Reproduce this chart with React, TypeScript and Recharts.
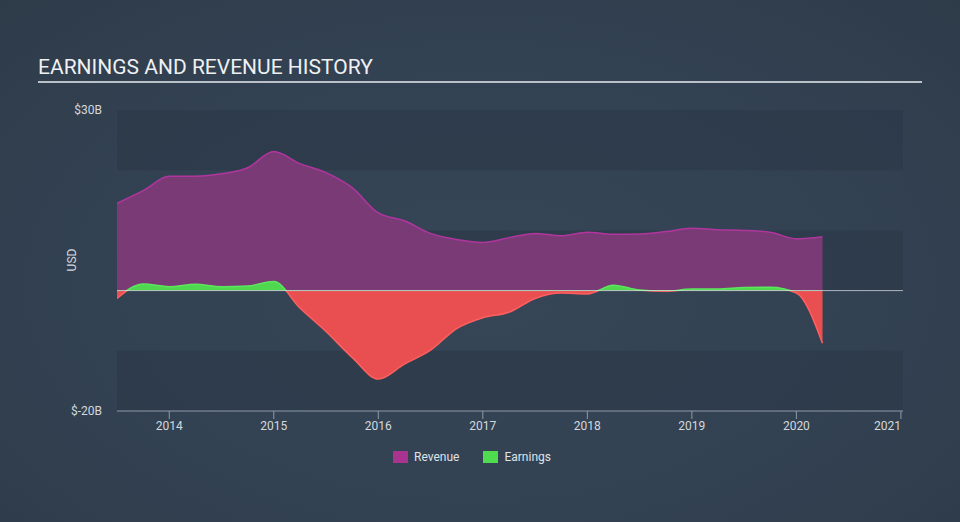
import React from 'react';
import {
  ComposedChart,
  Area,
  XAxis,
  YAxis,
  ReferenceArea,
  ReferenceLine,
} from 'recharts';

// quarter end dates (decimal years)
const quarters = [
  2013.5, 2013.75, 2014.0, 2014.25, 2014.5, 2014.75, 2015.0, 2015.25, 2015.5, 2015.75,
  2016.0, 2016.25, 2016.5, 2016.75, 2017.0, 2017.25, 2017.5, 2017.75, 2018.0, 2018.25,
  2018.5, 2018.75, 2019.0, 2019.25, 2019.5, 2019.75, 2020.0, 2020.25,
];

// USD billions
const revenue = [
  14.5, 16.6, 19.0, 19.0, 19.4, 20.4, 23.1, 21.1, 19.6, 17.1,
  12.9, 11.6, 9.5, 8.5, 8.0, 8.8, 9.5, 9.1, 9.7, 9.35,
  9.4, 9.8, 10.35, 10.1, 10.0, 9.7, 8.6, 8.95,
];

const earnings = [
  -1.3, 1.1, 0.65, 1.05, 0.65, 0.75, 1.5, -2.9, -6.8, -11.1,
  -14.7, -12.2, -9.9, -6.3, -4.5, -3.6, -1.3, -0.4, -0.55, 0.9,
  0.1, -0.1, 0.25, 0.27, 0.5, 0.55, -0.4, -8.75,
];

const yearTicks = [2014, 2015, 2016, 2017, 2018, 2019, 2020, 2021];
const valueTicks = [-20, 30];
const darkBands = [
  [20, 30],
  [0, 10],
  [-20, -10],
];

const data = quarters.map((t, i) => ({ t, revenue: revenue[i], earnings: earnings[i] }));

const eMax = Math.max(...earnings);
const eMin = Math.min(...earnings);
const splitOffset = eMax / (eMax - eMin);

const font = 'Roboto, "Noto Sans", sans-serif';

const YearTick = (props: any) => {
  const { x, y, payload } = props;
  const last = payload.value === yearTicks[yearTicks.length - 1];
  return (
    <text
      x={x}
      y={y}
      dy="0.71em"
      textAnchor={last ? 'end' : 'middle'}
      fill="#d4d8dc"
      fontSize={12}
      fontFamily={font}
    >
      {payload.value}
    </text>
  );
};

export default function App() {
  return (
    <div
      style={{
        position: 'absolute',
        left: 0,
        top: 0,
        width: 960,
        height: 522,
        overflow: 'hidden',
        background: 'radial-gradient(ellipse at 50% 55%, #364657 0%, #334253 55%, #2e3b49 100%)',
        fontFamily: font,
      }}
    >
      <div
        style={{
          position: 'absolute',
          left: 38,
          top: 55,
          fontSize: 21,
          color: '#eef0f2',
          whiteSpace: 'nowrap',
        }}
      >
        EARNINGS AND REVENUE HISTORY
      </div>
      <div
        style={{
          position: 'absolute',
          left: 38,
          top: 81,
          width: 884,
          height: 2,
          background: '#b9c0c8',
        }}
      />
      <div
        style={{
          position: 'absolute',
          left: 72,
          top: 260,
          transform: 'translate(-50%, -50%) rotate(-90deg)',
          fontSize: 12,
          color: '#d4d8dc',
        }}
      >
        USD
      </div>

      <ComposedChart
        width={960}
        height={522}
        data={data}
        margin={{ top: 110, right: 57, bottom: 81, left: 57 }}
        style={{ position: 'absolute', left: 0, top: 0 }}
      >
        <defs>
          <linearGradient id="earnFill" x1="0" y1="0" x2="0" y2="1">
            <stop offset={0} stopColor="#4fd84f" />
            <stop offset={splitOffset} stopColor="#4fd84f" />
            <stop offset={splitOffset} stopColor="#e94f50" />
            <stop offset={1} stopColor="#e94f50" />
          </linearGradient>
          <linearGradient id="earnStroke" x1="0" y1="0" x2="0" y2="1">
            <stop offset={0} stopColor="#5ce65c" />
            <stop offset={splitOffset} stopColor="#5ce65c" />
            <stop offset={splitOffset} stopColor="#ff5e5e" />
            <stop offset={1} stopColor="#ff5e5e" />
          </linearGradient>
        </defs>

        {darkBands.map(([lo, hi]) => (
          <ReferenceArea
            key={lo}
            y1={lo}
            y2={hi}
            x1={2013.5}
            x2={2021.02}
            fill="#2c3a49"
            fillOpacity={0.75}
            stroke="none"
            ifOverflow="visible"
          />
        ))}

        <XAxis
          type="number"
          dataKey="t"
          domain={[2013.5, 2021.02]}
          ticks={yearTicks}
          allowDataOverflow
          stroke="#8e9aa7"
          tickSize={8}
          tickMargin={2}
          tick={<YearTick />}
        />
        <YAxis
          type="number"
          domain={[-20, 30]}
          ticks={valueTicks}
          width={60}
          axisLine={false}
          tickLine={false}
          tickSize={0}
          tickMargin={15}
          tick={{ fill: '#d4d8dc', fontSize: 12, fontFamily: font }}
          tickFormatter={(v: number) => `$${v}B`}
        />

        <Area
          type="monotone"
          dataKey="revenue"
          fill="#7a3a76"
          fillOpacity={1}
          stroke="#b0369e"
          strokeWidth={1.5}
          isAnimationActive={false}
          dot={false}
          activeDot={false}
        />
        <Area
          type="monotone"
          dataKey="earnings"
          baseValue={0}
          fill="url(#earnFill)"
          fillOpacity={1}
          stroke="url(#earnStroke)"
          strokeWidth={1.5}
          isAnimationActive={false}
          dot={false}
          activeDot={false}
        />
        <ReferenceLine y={0} stroke="#e6e8ec" strokeOpacity={0.7} strokeWidth={1} />
      </ComposedChart>

      <div
        style={{
          position: 'absolute',
          left: 0,
          top: 450,
          width: 944,
          display: 'flex',
          justifyContent: 'center',
          alignItems: 'center',
          fontSize: 12,
          color: '#dfe2e6',
        }}
      >
        <span style={{ display: 'inline-block', width: 15, height: 12, background: '#a8348f', marginRight: 6 }} />
        <span style={{ marginRight: 24 }}>Revenue</span>
        <span style={{ display: 'inline-block', width: 15, height: 12, background: '#4fdc4f', marginRight: 6 }} />
        <span>Earnings</span>
      </div>
    </div>
  );
}
